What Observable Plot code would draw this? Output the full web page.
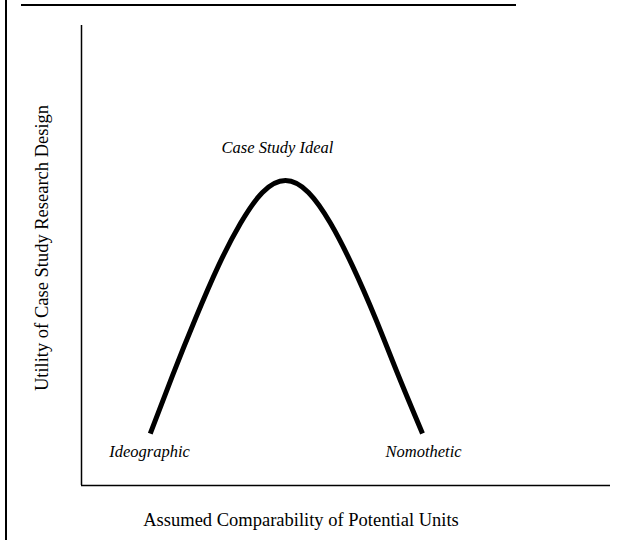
<!DOCTYPE html>
<html>
<head>
<meta charset="utf-8">
<script src="https://cdn.jsdelivr.net/npm/d3@7"></script>
<script src="https://cdn.jsdelivr.net/npm/@observablehq/plot@0.6"></script>
<style>
  html, body { margin: 0; padding: 0; background: #fff; }
  #wrap { position: relative; width: 620px; height: 540px; overflow: hidden; }
  #topline { position: absolute; left: 21px; top: 4px; width: 495px; height: 2px; background: #000; }
  #leftline { position: absolute; left: 5px; top: 0; width: 2px; height: 540px; background: #000; }
  #chart { position: absolute; left: 0; top: 0; }
</style>
</head>
<body>
<div id="wrap">
  <div id="topline"></div>
  <div id="leftline"></div>
  <div id="chart"></div>
</div>
<script>
// Curve: assumed comparability (x) vs utility (y), arbitrary units 0–100
const curveX = [13.0, 17.2, 21.55, 25.9, 30.06, 34.2, 38.56, 42.9, 47.07, 51.2, 55.58, 59.9, 64.46];
const curveY = [11.3, 23.9, 36.3, 47.8, 57.0, 63.7, 66.3, 63.7, 57.0, 47.8, 36.3, 23.9, 11.3];

// Annotations
const labelText = ["Ideographic", "Case Study Ideal", "Nomothetic"];
const labelX = [12.85, 37.05, 64.65];
const labelY = [7.4, 73.5, 7.4];

const xTitle = "Assumed Comparability of Potential Units";
const yTitle = "Utility of Case Study Research Design";

const curve = curveX.map((x, i) => ({x, y: curveY[i]}));
const labels = labelText.map((t, i) => ({t, x: labelX[i], y: labelY[i]}));

const chart = Plot.plot({
  width: 620,
  height: 540,
  marginLeft: 81,
  marginRight: 10,
  marginTop: 25,
  marginBottom: 55,
  style: {fontFamily: "'Liberation Serif', 'DejaVu Serif', serif", background: "transparent"},
  x: {domain: [0, 100], axis: null},
  y: {domain: [0, 100], axis: null},
  marks: [
    Plot.ruleX([0], {stroke: "#000", strokeWidth: 1.5}),
    Plot.ruleY([0], {stroke: "#000", strokeWidth: 1.5}),
    Plot.line(curve, {x: "x", y: "y", curve: "natural", stroke: "#000", strokeWidth: 5, strokeLinecap: "butt"}),
    Plot.text(labels, {x: "x", y: "y", text: "t", fontSize: 16.5, fontStyle: "italic", fill: "#000"}),
    Plot.text([xTitle], {frameAnchor: "bottom", textAnchor: "middle", dx: -45, dy: 40, fontSize: 18.5, fill: "#000"}),
    Plot.text([yTitle], {frameAnchor: "left", textAnchor: "middle", rotate: -90, dx: -39, dy: -7.5, fontSize: 18.5, fill: "#000"})
  ]
});
document.getElementById("chart").appendChild(chart);
</script>
</body>
</html>
